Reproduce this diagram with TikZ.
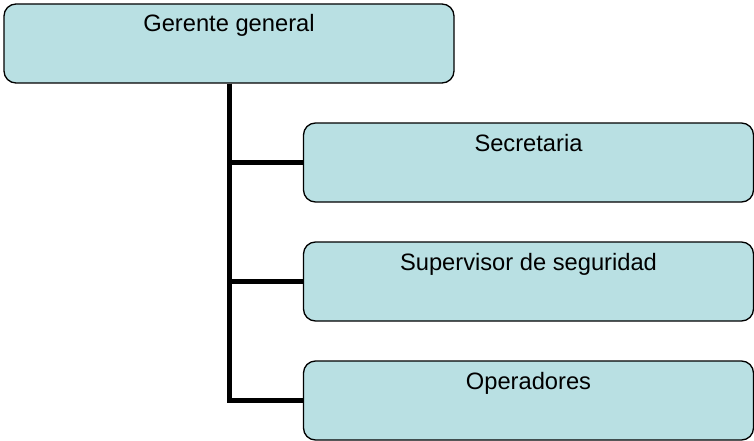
\documentclass[tikz,border=0pt]{standalone}
\usepackage{fontspec}
\setmainfont{Liberation Sans}
\usetikzlibrary{positioning}
\definecolor{boxfill}{RGB}{185,224,227}

\begin{document}
\begin{tikzpicture}[x=1pt, y=-1pt,
    orgbox/.style={draw, line width=1.3pt, rounded corners=12pt, fill=boxfill,
        minimum width=450pt, inner xsep=0pt, inner ysep=11pt,
        text height=17pt, text depth=40pt, font=\fontsize{23.7}{28}\selectfont},
    link/.style={line width=5pt, line join=miter}]
        \useasboundingbox (0,0) rectangle (754,441);

        % Top box
        \node[orgbox] (gerente) at (229,43.5) {Gerente general};

        % Boxes below
        \node[orgbox] (secretaria) at (528.5,162.5) {Secretaria};
        \node[orgbox] (supervisor) at (528.5,281.5) {Supervisor de seguridad};
        \node[orgbox] (operadores) at (528.5,400.5) {Operadores};

        % Connections
        \foreach \n in {secretaria,supervisor,operadores} {
            \draw[link] (gerente.south) |- (\n.west);
        }
    \end{tikzpicture}
\end{document}
